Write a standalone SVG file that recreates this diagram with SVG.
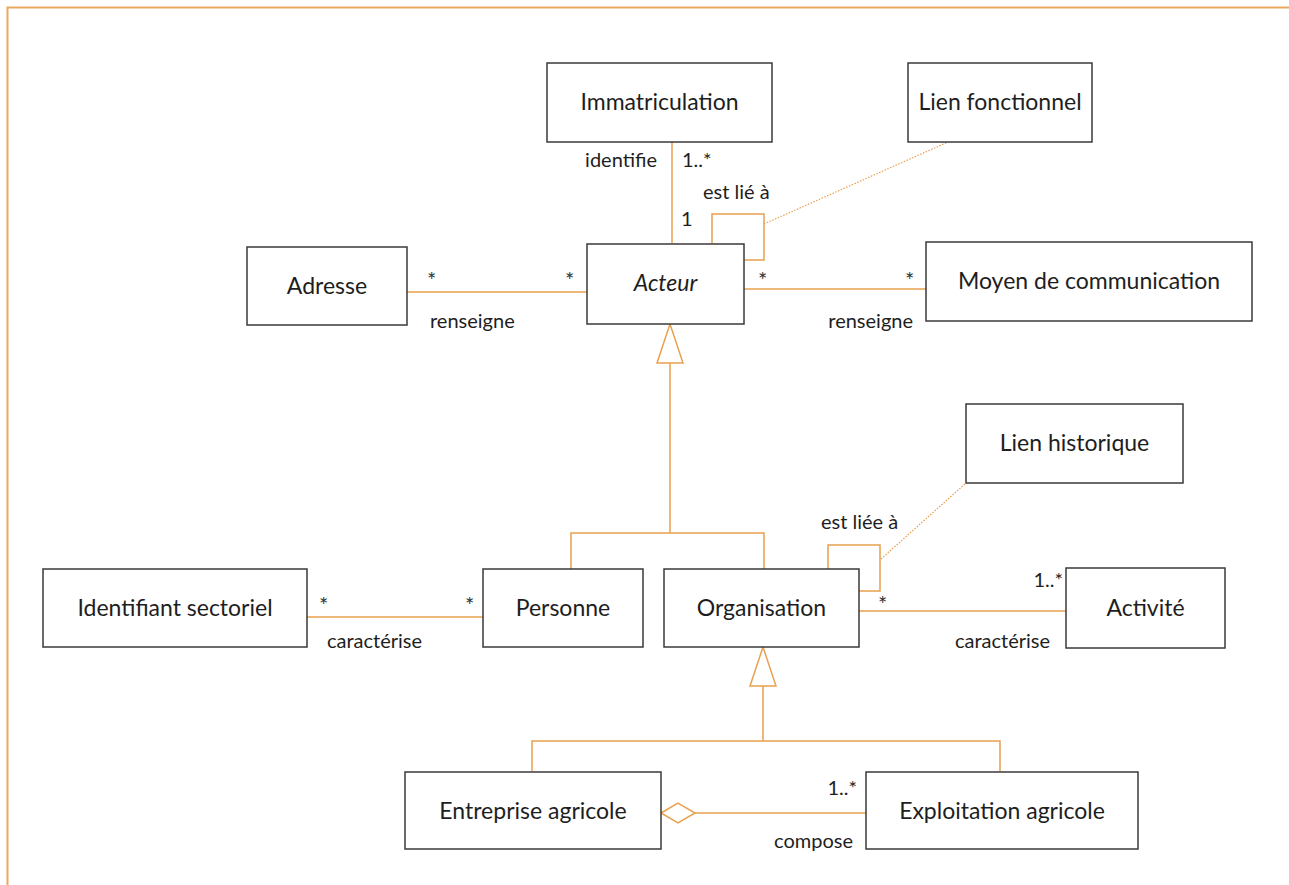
<svg xmlns="http://www.w3.org/2000/svg" width="1289" height="885" viewBox="0 0 1289 885">
<style>
.box{fill:#fff;stroke:#3a3a3a;stroke-width:1.5}
.lbl{font-family:Lato,"Open Sans",sans-serif;font-size:23px;fill:#1e1e1e;text-anchor:middle}
.t{font-family:Lato,"Open Sans",sans-serif;font-size:20px;fill:#1e1e1e}
.m{font-family:Lato,"Open Sans",sans-serif;font-size:22px;fill:#333}
.c{fill:none;stroke:#E9A04F;stroke-width:1.5}
.d{fill:none;stroke:#E9A04F;stroke-width:1.2;stroke-dasharray:1.5 1.5}
.tri{fill:#fff;stroke:#E9A04F;stroke-width:1.5}
</style>
<rect width="1289" height="885" fill="#fff"/>
<path d="M7.5 885 V7.5 H1289" fill="none" stroke="#E9A75F" stroke-width="2"/>
<g id="connectors">
<path class="c" d="M672 142 V243"/>
<path class="c" d="M712 243 V214 H764 V260 H744"/>
<path class="d" d="M764 224 L948 142"/>
<path class="c" d="M407 292 H587"/>
<path class="c" d="M744 289 H926"/>
<path class="c" d="M670 363 V533 M571 569 V533 H764 V569"/>
<polygon class="tri" points="670,324 657,363 683,363"/>
<path class="c" d="M828 569 V545 H880 V591 H859"/>
<path class="d" d="M881 559 L966 483"/>
<path class="c" d="M859 611 H1066"/>
<path class="c" d="M307 617 H483"/>
<path class="c" d="M763 686 V741 M532 771 V741 H1000 V771"/>
<polygon class="tri" points="763,647 750,686 776,686"/>
<path class="c" d="M695 813 H866"/>
<polygon class="tri" points="661,813 678,803 695,813 678,823"/>
<text class="t" x="657" y="167" text-anchor="end">identifie</text>
<text class="t" x="682" y="167">1..*</text>
<text class="t" x="703" y="199">est lié à</text>
<text class="t" x="681" y="226">1</text>
<text class="m" x="427" y="288">*</text>
<text class="m" x="565" y="288">*</text>
<text class="t" x="430" y="328">renseigne</text>
<text class="m" x="758" y="288">*</text>
<text class="m" x="905" y="288">*</text>
<text class="t" x="913" y="328" text-anchor="end">renseigne</text>
<text class="t" x="821" y="529">est liée à</text>
<text class="m" x="878" y="612">*</text>
<text class="t" x="1063" y="587" text-anchor="end">1..*</text>
<text class="t" x="1050" y="648" text-anchor="end">caractérise</text>
<text class="m" x="319" y="613">*</text>
<text class="m" x="465" y="613">*</text>
<text class="t" x="327" y="648">caractérise</text>
<text class="t" x="857" y="795" text-anchor="end">1..*</text>
<text class="t" x="853" y="848" text-anchor="end">compose</text>
</g>
<g id="immatriculation"><rect class="box" x="547" y="63" width="225" height="79"/><text class="lbl" x="659.5" y="110">Immatriculation</text></g>
<g id="lien-fonctionnel"><rect class="box" x="908" y="63" width="184" height="79"/><text class="lbl" x="1000" y="110">Lien fonctionnel</text></g>
<g id="adresse"><rect class="box" x="247" y="247" width="160" height="78"/><text class="lbl" x="327" y="294">Adresse</text></g>
<g id="acteur"><rect class="box" x="587" y="244" width="157" height="80"/><text class="lbl" x="665.5" y="291" font-style="italic" font-size="21">Acteur</text></g>
<g id="moyen-communication"><rect class="box" x="926" y="242" width="326" height="79"/><text class="lbl" x="1089" y="289">Moyen de communication</text></g>
<g id="lien-historique"><rect class="box" x="966" y="404" width="217" height="79"/><text class="lbl" x="1074.5" y="451">Lien historique</text></g>
<g id="identifiant-sectoriel"><rect class="box" x="43" y="569" width="264" height="78"/><text class="lbl" x="175" y="616">Identifiant sectoriel</text></g>
<g id="personne"><rect class="box" x="483" y="569" width="160" height="78"/><text class="lbl" x="563" y="616">Personne</text></g>
<g id="organisation"><rect class="box" x="664" y="569" width="195" height="78"/><text class="lbl" x="761.5" y="616">Organisation</text></g>
<g id="activite"><rect class="box" x="1066" y="568" width="159" height="80"/><text class="lbl" x="1145.5" y="616">Activité</text></g>
<g id="entreprise-agricole"><rect class="box" x="405" y="772" width="256" height="77"/><text class="lbl" x="533" y="819">Entreprise agricole</text></g>
<g id="exploitation-agricole"><rect class="box" x="866" y="772" width="272" height="77"/><text class="lbl" x="1002" y="819">Exploitation agricole</text></g>
</svg>
